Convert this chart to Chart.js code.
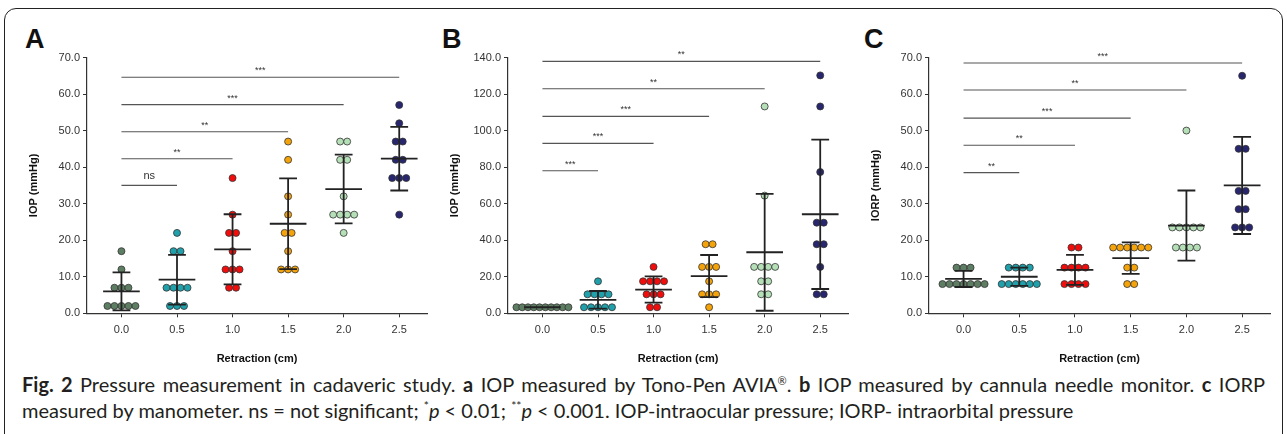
<!DOCTYPE html>
<html>
<head>
<meta charset="utf-8">
<script src="https://cdn.jsdelivr.net/npm/chart.js@4.4.0/dist/chart.umd.min.js"></script>
<style>
  body { margin: 0; background: #fff; width: 1287px; height: 434px; overflow: hidden; position: relative; font-family: "Liberation Sans", Arial, sans-serif; }
  .frame { position: absolute; left: 4px; top: 8px; width: 1279px; height: 470px; border: 1.5px solid #222; border-radius: 12px; box-sizing: border-box; }
  .panel { position: absolute; top: 45px; }
  .tag { position: absolute; top: 24px; font: bold 27px "Liberation Sans", Arial, sans-serif; color: #111; }
  .caption { position: absolute; left: 22px; font: 20px Lato, sans-serif; line-height: 25px; color: #231f20; white-space: nowrap; }
  .caption.first { top: 372px; width: 1243px; text-align: justify; text-align-last: justify; }
  .caption.second { top: 398px; }
  .caption sup { font-size: 12px; line-height: 0; vertical-align: 8px; }
  .caption .reg { font-size: 11px; vertical-align: 7px; }
</style>
</head>
<body>
<div class="frame"></div>
<div class="tag" style="left:25px">A</div>
<div class="tag" style="left:442px">B</div>
<div class="tag" style="left:864px">C</div>
<canvas id="chart-a" class="panel" style="left:20px" width="415" height="325"></canvas>
<canvas id="chart-b" class="panel" style="left:441px" width="415" height="325"></canvas>
<canvas id="chart-c" class="panel" style="left:862px" width="416" height="325"></canvas>
<div class="caption first"><b>Fig. 2</b> Pressure measurement in cadaveric study. <b>a</b> IOP measured by Tono-Pen AVIA<sup class="reg">®</sup>. <b>b</b> IOP measured by cannula needle monitor. <b>c</b> IORP</div>
<div class="caption second">measured by manometer. ns = not significant; <sup>*</sup><i>p</i> &lt; 0.01; <sup>**</sup><i>p</i> &lt; 0.001. IOP-intraocular pressure; IORP- intraorbital pressure</div>

<script>
const categories = [0.0, 0.5, 1.0, 1.5, 2.0, 2.5];
const groupColors = ['#5e7e63', '#1fa0aa', '#f20d0d', '#f5a30a', '#b4dfb7', '#27266e'];

// A: IOP by Tono-Pen
const iopPenValues = [
  [17, 12, 7, 7, 7, 2, 2, 2, 2, 2],
  [22, 17, 17, 7, 7, 7, 7, 2, 2, 2],
  [37, 27, 22, 22, 17, 12, 12, 12, 7, 7],
  [47, 42, 32, 27, 22, 22, 17, 12, 12, 12],
  [47, 47, 42, 42, 32, 27, 27, 27, 27, 22],
  [57, 52, 47, 47, 42, 42, 37, 37, 37, 27]
];
const iopPenMean = [6.0, 9.2, 17.5, 24.5, 34.0, 42.3];
const iopPenSD = [5.2, 6.8, 9.6, 12.4, 9.4, 8.7];
const iopPenSigEnd = [0.5, 1.0, 1.5, 2.0, 2.5];
const iopPenSigLevel = [35.0, 42.3, 49.7, 57.1, 64.6];
const iopPenSigText = ['ns', '**', '**', '***', '***'];

// B: IOP by cannula needle monitor
const iopCannulaValues = [
  [3.3, 3.3, 3.3, 3.3, 3.3, 3.3, 3.3, 3.3, 3.3, 3.3],
  [17.5, 10.4, 10.4, 10.4, 10.4, 3.3, 3.3, 3.3, 3.3, 3.3],
  [25.4, 17.5, 17.5, 17.5, 17.5, 10.4, 10.4, 10.4, 3.3, 3.3],
  [37.8, 37.8, 25.4, 25.4, 25.4, 17.5, 10.4, 10.4, 10.4, 3.3],
  [113.2, 64.4, 25.4, 25.4, 25.4, 25.4, 17.5, 17.5, 10.4, 10.4],
  [130.2, 113.2, 77.3, 49.6, 49.6, 37.8, 37.8, 25.4, 10.4, 10.4]
];
const iopCannulaMean = [3.3, 7.4, 13.0, 20.4, 33.4, 54.2];
const iopCannulaSD = [0, 4.8, 7.2, 11.5, 32.0, 40.9];
const iopCannulaSigEnd = [0.5, 1.0, 1.5, 2.0, 2.5];
const iopCannulaSigLevel = [78.0, 93.0, 107.8, 122.9, 137.9];
const iopCannulaSigText = ['***', '***', '***', '**', '**'];

// C: IORP by manometer
const iorpValues = [
  [12.5, 12.5, 12.5, 8, 8, 8, 8, 8, 8, 8],
  [12.5, 12.5, 12.5, 12.5, 8, 8, 8, 8, 8, 8],
  [18, 18, 12.5, 12.5, 12.5, 12.5, 8, 8, 8, 8],
  [18, 18, 18, 18, 18, 18, 12.5, 12.5, 8, 8],
  [50, 23.5, 23.5, 23.5, 23.5, 23.5, 18, 18, 18, 18],
  [65, 45, 45, 33.5, 33.5, 28.5, 28.5, 23.5, 23.5, 23.5]
];
const iorpMean = [9.4, 10.0, 11.9, 15.1, 24.0, 35.0];
const iorpSD = [2.2, 2.5, 4.1, 4.3, 9.6, 13.3];
const iorpSigEnd = [0.5, 1.0, 1.5, 2.0, 2.5];
const iorpSigLevel = [38.5, 46.0, 53.4, 61.1, 68.5];
const iorpSigText = ['**', '**', '***', '**', '***'];

const yTickValuesA = [0, 10, 20, 30, 40, 50, 60, 70];
const yTickValuesB = [0, 20, 40, 60, 80, 100, 120, 140];
const yTickValuesC = [0, 10, 20, 30, 40, 50, 60, 70];

// spread equal values side by side around the category, like a dot plot
function dotPoints(groups) {
  const pts = [];
  groups.forEach((vals, gi) => {
    const rows = {};
    vals.forEach(v => { rows[v] = (rows[v] || 0) + 1; });
    Object.keys(rows).forEach(k => {
      const n = rows[k];
      const step = n > 7 ? 0.052 : 0.063;
      for (let i = 0; i < n; i++) {
        pts.push({ x: categories[gi] + (i - (n - 1) / 2) * step, y: Number(k), c: groupColors[gi] });
      }
    });
  });
  return pts;
}

function barSegments(means, sds) {
  const segs = [];
  const gap = { x: 0, y: null };
  means.forEach((m, i) => {
    const c = categories[i], s = sds[i];
    segs.push({ x: c - 0.165, y: m }, { x: c + 0.165, y: m }, gap);
    if (s > 0) {
      segs.push({ x: c, y: m - s }, { x: c, y: m + s }, gap);
      segs.push({ x: c - 0.08, y: m + s }, { x: c + 0.08, y: m + s }, gap);
      segs.push({ x: c - 0.08, y: m - s }, { x: c + 0.08, y: m - s }, gap);
    }
  });
  return segs;
}

function sigSegments(ends, levels) {
  const segs = [];
  ends.forEach((e, i) => {
    segs.push({ x: categories[0], y: levels[i] }, { x: e, y: levels[i] }, { x: 0, y: null });
  });
  return segs;
}

const sigLabelPlugin = {
  id: 'sigLabels',
  afterDatasetsDraw(chart, args, opts) {
    const { ctx, scales: { x, y } } = chart;
    ctx.save();
    ctx.fillStyle = '#333';
    ctx.textAlign = 'center';
    opts.ends.forEach((e, i) => {
      const px = x.getPixelForValue((categories[0] + e) / 2);
      const py = y.getPixelForValue(opts.levels[i]);
      if (opts.texts[i] === 'ns') {
        ctx.font = '11px "Liberation Sans", Arial, sans-serif';
        ctx.textBaseline = 'middle';
        ctx.fillText('ns', px, py - 9);
      } else {
        ctx.font = '9px "Liberation Sans", Arial, sans-serif';
        ctx.textBaseline = 'alphabetic';
        ctx.fillText(opts.texts[i], px, py - 4);
      }
    });
    ctx.restore();
  }
};

function makePanel(id, values, means, sds, yTicks, yTitle, sigEnd, sigLevel, sigText) {
  const dots = dotPoints(values);
  return new Chart(document.getElementById(id), {
    type: 'scatter',
    data: {
      datasets: [
        {
          data: barSegments(means, sds),
          showLine: true, spanGaps: false,
          borderColor: '#222', borderWidth: 1.8,
          pointRadius: 0, order: 0
        },
        {
          data: sigSegments(sigEnd, sigLevel),
          showLine: true, spanGaps: false,
          borderColor: '#555', borderWidth: 1.1,
          pointRadius: 0, order: 0
        },
        {
          data: dots,
          pointRadius: 3.5,
          pointBackgroundColor: dots.map(p => p.c),
          pointBorderColor: '#333',
          pointBorderWidth: 0.8,
          order: 1
        }
      ]
    },
    options: {
      responsive: false,
      animation: false,
      events: [],
      layout: { padding: { top: 12.5, right: 8, left: 0, bottom: 0 } },
      plugins: {
        legend: { display: false },
        tooltip: { enabled: false },
        sigLabels: { ends: sigEnd, levels: sigLevel, texts: sigText }
      },
      scales: {
        x: {
          type: 'linear', min: -0.31, max: 2.75,
          afterBuildTicks: s => { s.ticks = categories.map(v => ({ value: v })); },
          afterFit: s => { s.height = 56.7; },
          ticks: { callback: v => Number(v).toFixed(1), color: '#333', font: { size: 11 }, padding: 6, maxRotation: 0 },
          grid: { drawOnChartArea: false, drawTicks: true, tickLength: 4, color: '#333' },
          border: { color: '#333', width: 1.2 },
          title: { display: true, text: 'Retraction (cm)', color: '#111', font: { size: 11, weight: 'bold' }, padding: { top: 4, bottom: 4 } }
        },
        y: {
          min: yTicks[0], max: yTicks[yTicks.length - 1],
          afterBuildTicks: s => { s.ticks = yTicks.map(v => ({ value: v })); },
          afterFit: s => { s.width = 67; },
          ticks: { callback: v => Number(v).toFixed(1), color: '#333', font: { size: 11 }, padding: 3 },
          grid: { drawOnChartArea: false, drawTicks: true, tickLength: 4, color: '#333' },
          border: { color: '#333', width: 1.2 },
          title: { display: true, text: yTitle, color: '#111', font: { size: 11, weight: 'bold' }, padding: { top: 7, bottom: 0 } }
        }
      }
    },
    plugins: [sigLabelPlugin]
  });
}

makePanel('chart-a', iopPenValues, iopPenMean, iopPenSD, yTickValuesA, 'IOP (mmHg)', iopPenSigEnd, iopPenSigLevel, iopPenSigText);
makePanel('chart-b', iopCannulaValues, iopCannulaMean, iopCannulaSD, yTickValuesB, 'IOP (mmHg)', iopCannulaSigEnd, iopCannulaSigLevel, iopCannulaSigText);
makePanel('chart-c', iorpValues, iorpMean, iorpSD, yTickValuesC, 'IORP (mmHg)', iorpSigEnd, iorpSigLevel, iorpSigText);
</script>
</body>
</html>
